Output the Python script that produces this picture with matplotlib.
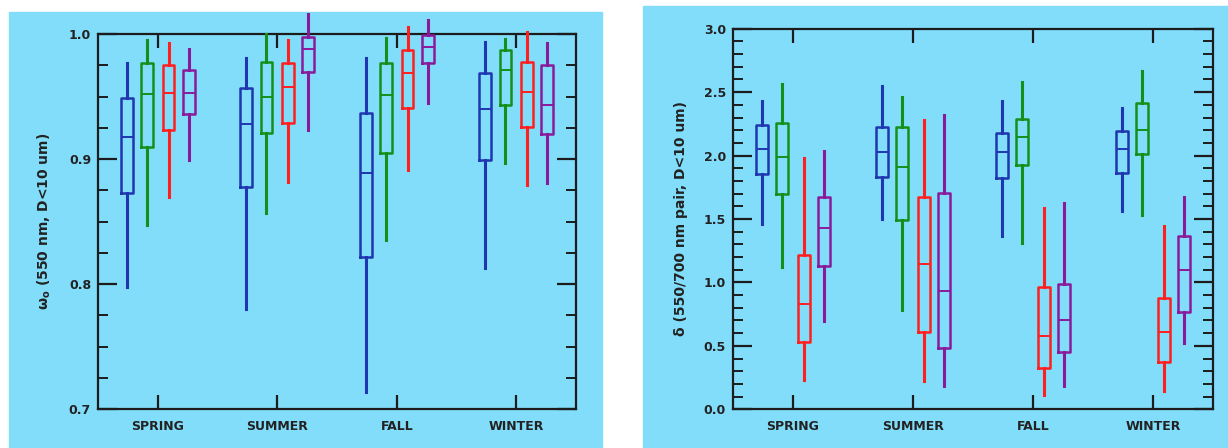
import matplotlib
matplotlib.use('Agg')
import matplotlib.pyplot as plt
from matplotlib.patches import Rectangle
from matplotlib.ticker import MultipleLocator

seasons = ['SPRING', 'SUMMER', 'FALL', 'WINTER']
colors = ['#1f36b0', '#14901a', '#ff1f1f', '#8a1a9c']

# [whisker low, q1, median, q3, whisker high] per season
ssa_blue = [[0.798, 0.873, 0.918, 0.949, 0.977], [0.780, 0.878, 0.928, 0.957, 0.981],
            [0.714, 0.822, 0.889, 0.937, 0.981], [0.813, 0.899, 0.940, 0.969, 0.994]]
ssa_green = [[0.847, 0.910, 0.952, 0.977, 0.995], [0.857, 0.921, 0.950, 0.978, 1.000],
             [0.835, 0.905, 0.951, 0.977, 0.997], [0.897, 0.943, 0.971, 0.987, 0.996]]
ssa_red = [[0.870, 0.923, 0.953, 0.975, 0.993], [0.882, 0.929, 0.958, 0.977, 0.995],
           [0.891, 0.941, 0.969, 0.987, 1.006], [0.879, 0.926, 0.954, 0.978, 1.002]]
ssa_purple = [[0.899, 0.936, 0.953, 0.971, 0.988], [0.923, 0.970, 0.988, 0.998, 1.016],
              [0.945, 0.977, 0.990, 0.999, 1.011], [0.881, 0.920, 0.943, 0.975, 0.993]]

ang_blue = [[1.460, 1.854, 2.051, 2.240, 2.432], [1.497, 1.833, 2.028, 2.225, 2.548],
            [1.366, 1.825, 2.025, 2.180, 2.429], [1.563, 1.865, 2.051, 2.193, 2.372]]
ang_green = [[1.124, 1.694, 1.991, 2.254, 2.561], [0.783, 1.492, 1.907, 2.225, 2.459],
             [1.308, 1.925, 2.148, 2.288, 2.582], [1.531, 2.009, 2.201, 2.411, 2.666]]
ang_red = [[0.231, 0.533, 0.830, 1.214, 1.978], [0.226, 0.607, 1.143, 1.671, 2.280],
           [0.113, 0.323, 0.578, 0.961, 1.584], [0.144, 0.375, 0.607, 0.879, 1.444]]
ang_purple = [[0.698, 1.129, 1.431, 1.675, 2.038], [0.186, 0.486, 0.932, 1.702, 2.319],
              [0.186, 0.454, 0.704, 0.985, 1.623], [0.525, 0.764, 1.098, 1.368, 1.675]]

offsets = [-0.26, -0.09, 0.09, 0.26]
bg = '#82ddfa'
ink = '#1c1c1c'

fig = plt.figure(figsize=(12.28, 4.48), dpi=100)
fig.patch.set_facecolor('white')

# light blue panels behind each plot
fig.patches.append(Rectangle((9 / 1228, 0), 593 / 1228, 436 / 448,
                             transform=fig.transFigure, color=bg, zorder=-10))
fig.patches.append(Rectangle((643 / 1228, 0), 585 / 1228, 442 / 448,
                             transform=fig.transFigure, color=bg, zorder=-10))

ax1 = fig.add_axes([98 / 1228, 39 / 448, 478 / 1228, 375 / 448])
ax2 = fig.add_axes([733 / 1228, 38.7 / 448, 480 / 1228, 380.6 / 448])


def draw_boxes(ax, series):
    for k, data in enumerate(series):
        stats = [dict(whislo=d[0], q1=d[1], med=d[2], q3=d[3], whishi=d[4])
                 for d in data]
        pos = [i + 1 + offsets[k] for i in range(len(data))]
        c = colors[k]
        art = ax.bxp(stats, positions=pos, widths=0.1, showfliers=False,
                     showcaps=False, manage_ticks=False,
                     boxprops=dict(color=c, linewidth=1.8),
                     whiskerprops=dict(color=c, linewidth=2.2),
                     medianprops=dict(color=c, linewidth=1.4))
        for key in art:
            for a in art[key]:
                a.set_clip_on(False)
                a.set_zorder(3)


def style(ax, ylim, major, minor, ylabel):
    ax.set_facecolor('none')
    ax.set_xlim(0.5, 4.5)
    ax.set_ylim(*ylim)
    ax.set_xticks(range(1, 5))
    ax.set_xticklabels(seasons)
    ax.yaxis.set_major_locator(MultipleLocator(major))
    ax.yaxis.set_minor_locator(MultipleLocator(minor))
    ax.yaxis.set_major_formatter(matplotlib.ticker.FormatStrFormatter('%.1f'))
    for s in ax.spines.values():
        s.set_linewidth(1.6)
        s.set_color(ink)
    ax.tick_params(axis='y', which='major', direction='in', length=14, width=1.6,
                   left=True, right=True, color=ink, pad=5)
    ax.tick_params(axis='y', which='minor', direction='in', length=7, width=1.4,
                   left=True, right=True, color=ink)
    ax.tick_params(axis='x', which='major', direction='in', length=10, width=1.6,
                   top=True, bottom=True, color=ink, pad=8)
    for lab in ax.get_xticklabels() + ax.get_yticklabels():
        lab.set_fontsize(9)
        lab.set_fontweight('bold')
        lab.set_color('#222222')
    ax.set_ylabel(ylabel, fontsize=10, fontweight='bold', color='#222222')
    ax.yaxis.set_label_coords(-0.094, 0.5)


draw_boxes(ax1, [ssa_blue, ssa_green, ssa_red, ssa_purple])
style(ax1, (0.7, 1.0), 0.1, 0.025, r'ω$_\mathbf{o}$ (550 nm, D<10 um)')

draw_boxes(ax2, [ang_blue, ang_green, ang_red, ang_purple])
style(ax2, (0.0, 3.0), 0.5, 0.1, 'δ (550/700 nm pair, D<10 um)')

fig.savefig('out.png', dpi=100, facecolor='white')
